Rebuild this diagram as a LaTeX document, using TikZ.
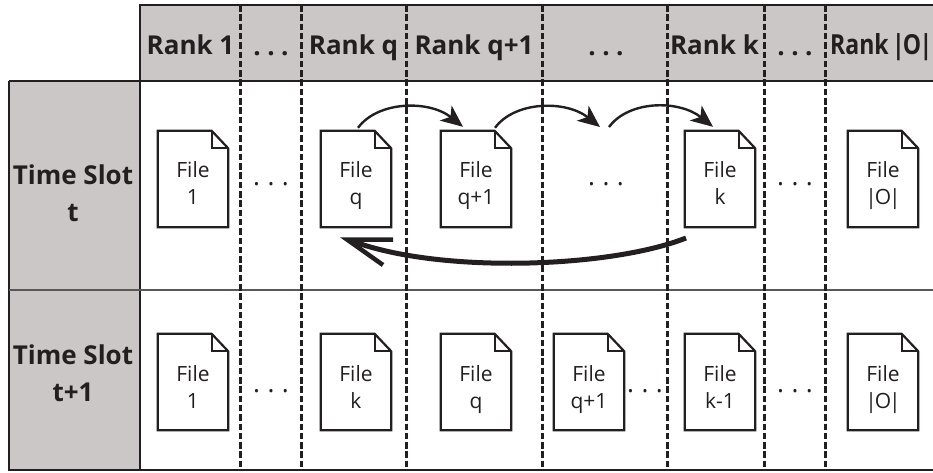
\documentclass[tikz,border=0pt]{standalone}
\usepackage{fontspec}
\setmainfont{Open Sans}
\usetikzlibrary{arrows.meta}
\definecolor{hdr}{HTML}{CBC7C6}
\definecolor{ink}{HTML}{231F20}
\tikzset{
  frameline/.style={draw=ink,line width=2.6pt},
  dashline/.style={draw=ink,line width=3pt,dash pattern=on 6.5pt off 2.8pt},
  rowline/.style={draw=ink!75,line width=1.5pt},
  ranktext/.style={inner sep=0pt,font=\fontsize{26}{30}\selectfont\bfseries,text=ink},
  slottext/.style={inner sep=0pt,align=center,font=\fontsize{26}{37}\selectfont\bfseries,text=ink},
  fileshell/.style={inner sep=0pt,minimum width=70pt,minimum height=96pt},
  filetext/.style={inner sep=0pt,align=center,font=\fontsize{21}{27}\selectfont,text=ink},
  filebody/.style={draw=ink,line width=2.2pt,line join=miter},
  dotstext/.style={inner sep=0pt,font=\fontsize{26}{26}\selectfont,text=ink},
  hop/.style={draw=ink,line width=2.4pt,-{Stealth[length=22pt,width=19pt,inset=6pt]}},
  bigarc/.style={draw=ink,line width=5pt},
}
\newcommand{\filedoc}[5]{%
  \node[fileshell] (#1) at (#2,#3) {};
  \node[filetext] (#1t) at ([yshift=#5]#1.center) {\strut File\\\strut #4};
  \draw[filebody] (#1.south west) -- (#1.north west) -- ([xshift=-16.5pt]#1.north east)
     -- ([yshift=-17.5pt]#1.north east) -- (#1.south east) -- cycle;
  \draw[filebody] ([xshift=-16.5pt]#1.north east) -- ([xshift=-16.5pt,yshift=-17.5pt]#1.north east)
     -- ([yshift=-17.5pt]#1.north east);
}
\newcommand{\dotsat}[3]{\node[dotstext] (#1) at (#2,#3) {.\hspace{7.4pt}.\hspace{7.4pt}.};}
\newcommand{\barO}{|\kern-2pt O\kern-2pt|}
\begin{document}
\begin{tikzpicture}[x=1pt,y=-1pt]
\useasboundingbox (0,0) rectangle (933,472);
% shaded bands
\fill[hdr] (140,5) rectangle (933,81);
\fill[hdr] (9,81) rectangle (140,470);
% frame
\draw[frameline] (933,5) -- (140,5) -- (140,470);
\draw[frameline] (9,81) -- (933,81);
\draw[frameline] (9,81) -- (9,470) -- (933,470);
\draw[rowline] (9,290) -- (933,290);
% dashed column rules
\foreach \xc in {240,301,406,542,667,764,825}
  \draw[dashline] (\xc,5) -- (\xc,470);
% headers
\node[ranktext,anchor=base] (r1) at (190.5,54) {Rank 1};
\node[ranktext,anchor=base] (r2) at (271,55) {.\hspace{6.5pt}.\hspace{6.5pt}.};
\node[ranktext,anchor=base] (r3) at (353.5,54) {Rank q};
\node[ranktext,anchor=base] (r4) at (474,54) {Rank q+1};
\node[ranktext,anchor=base] (r5) at (606,55) {.\hspace{6.5pt}.\hspace{6.5pt}.};
\node[ranktext,anchor=base] (r6) at (714.5,54) {Rank k};
\node[ranktext,anchor=base] (r7) at (795,55) {.\hspace{6.5pt}.\hspace{6.5pt}.};
\node[ranktext,anchor=base west] (r8) at (830,54) {\resizebox{102pt}{21pt}{Rank \kern-3pt|\kern-2pt O\kern-2pt|}};
% row heads
\node[slottext] (s1) at (73,196) {\strut Time Slot\\\strut t};
\node[slottext] (s2) at (73,376) {\strut Time Slot\\\strut t+1};
% row 1
\filedoc{a1}{193}{179}{1}{-7pt}
\filedoc{aq}{356}{179}{q}{-7pt}
\filedoc{aqp}{476}{179}{q+1}{-7pt}
\filedoc{ak}{720}{179}{k}{-7pt}
\filedoc{ao}{883}{179}{\barO}{-7pt}
\dotsat{d1}{271}{184}
\dotsat{d2}{606}{184}
\dotsat{d3}{795}{184}
% row 2
\filedoc{b1}{193}{382}{1}{-8pt}
\filedoc{bk}{356}{382}{k}{-8pt}
\filedoc{bq}{476}{382}{q}{-8pt}
\filedoc{bqp}{589}{382}{q+1}{-8pt}
\filedoc{bkm}{720}{382}{k-1}{-8pt}
\filedoc{bo}{883}{382}{\barO}{-8pt}
\dotsat{e1}{271}{391}
\dotsat{e2}{645}{391}
\dotsat{e3}{795}{391}
% hops
\coordinate (midin) at (600,127);
\coordinate (midout) at (609,127);
\path[hop] ([xshift=2pt,yshift=3pt]aq.north) .. controls +(20,-27) and +(-34,-27) .. ([xshift=-13pt,yshift=4pt]aqp.north);
\path[hop] ([xshift=19pt,yshift=3pt]aqp.north) .. controls +(20,-27) and +(-34,-27) .. (midin);
\path[hop] (midout) .. controls +(20,-27) and +(-34,-27) .. ([xshift=-7pt,yshift=4pt]ak.north);
% big return arrow
\coordinate (bigstart) at (686,238);
\coordinate (bigtip) at (352,241);
\coordinate (barbtop) at (393,239.5);
\coordinate (barbtip) at (347,239.5);
\coordinate (barbbot) at (383,265);
\path[bigarc,line cap=butt] (bigstart) .. controls (610,268) and (440,274) .. (bigtip);
\path[draw=ink,line width=4.5pt,line join=miter,miter limit=10] (barbtop) -- (barbtip) -- (barbbot);
\end{tikzpicture}
\end{document}
